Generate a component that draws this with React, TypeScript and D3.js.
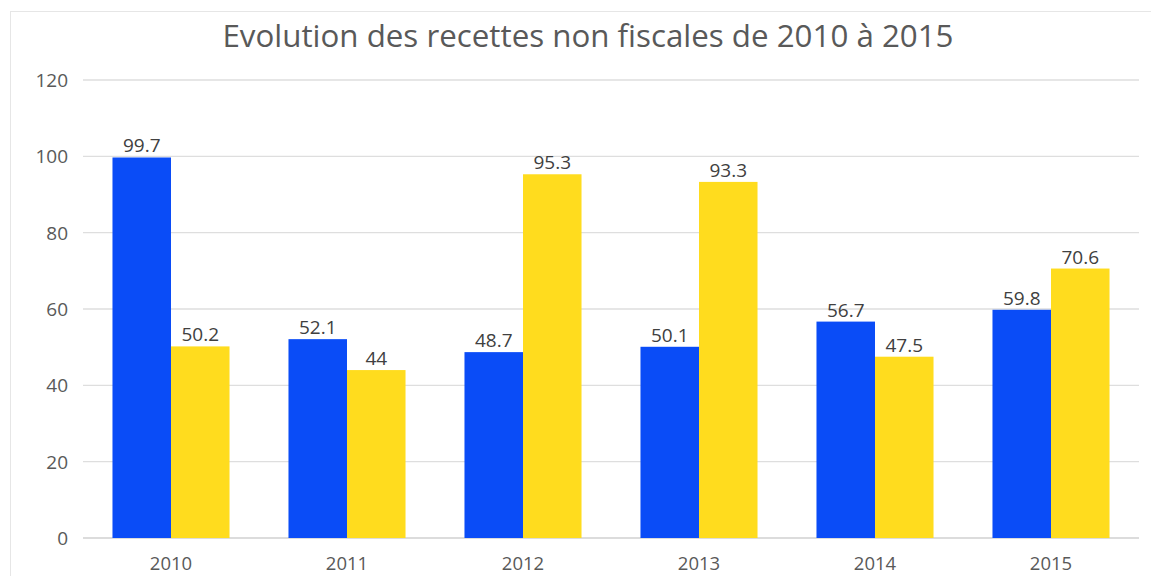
import React from "react";
import * as d3 from "d3";

const categories = ["2010", "2011", "2012", "2013", "2014", "2015"];
const seriesA = [99.7, 52.1, 48.7, 50.1, 56.7, 59.8];
const seriesB = [50.2, 44, 95.3, 93.3, 47.5, 70.6];
const yTicks = [0, 20, 40, 60, 80, 100, 120];
const title = "Evolution des recettes non fiscales de 2010 à 2015";

const W = 1151;
const H = 576;
const FONT = "'Open Sans', 'DejaVu Sans', sans-serif";

export default function App() {
  const x = d3.scaleBand<string>().domain(categories).range([83, 1139]).paddingInner(0.335).paddingOuter(0.1675);
  const xs = d3.scaleBand<string>().domain(["a", "b"]).range([0, x.bandwidth()]);
  const y = d3.scaleLinear().domain([0, 120]).range([538, 80]);
  const series = [
    { key: "a", values: seriesA, color: "#0A4CF7" },
    { key: "b", values: seriesB, color: "#FFDC1E" },
  ];
  return (
    <svg width={W} height={H} style={{ position: "absolute", left: 0, top: 0, background: "#fff" }}>
      <rect x={10.5} y={11.5} width={W + 10} height={H + 10} fill="#fff" stroke="#e6e6e6" />
      <text x={588} y={47} textAnchor="middle" fontFamily={FONT} fontSize={31.3} fill="#595959">{title}</text>
      {yTicks.map((t) => (
        <g key={t}>
          <line x1={83} x2={1139} y1={y(t)} y2={y(t)} stroke={t === 0 ? "#d0d0d0" : "#dedede"} strokeWidth={1.3} />
          <text x={68} y={y(t) + 7} textAnchor="end" fontFamily={FONT} fontSize={19} fill="#595959">{t}</text>
        </g>
      ))}
      {series.map((s) => (
        <g key={s.key}>
          {categories.map((c, i) => (
            <g key={c}>
              <rect x={(x(c) ?? 0) + (xs(s.key) ?? 0)} y={y(s.values[i])} width={xs.bandwidth()} height={y(0) - y(s.values[i])} fill={s.color} />
              <text x={(x(c) ?? 0) + (xs(s.key) ?? 0) + xs.bandwidth() / 2} y={y(s.values[i]) - 5} textAnchor="middle" fontFamily={FONT} fontSize={19} fill="#404040">{s.values[i]}</text>
            </g>
          ))}
        </g>
      ))}
      {categories.map((c) => (
        <text key={c} x={(x(c) ?? 0) + x.bandwidth() / 2} y={570} textAnchor="middle" fontFamily={FONT} fontSize={18.5} fill="#595959">{c}</text>
      ))}
    </svg>
  );
}
